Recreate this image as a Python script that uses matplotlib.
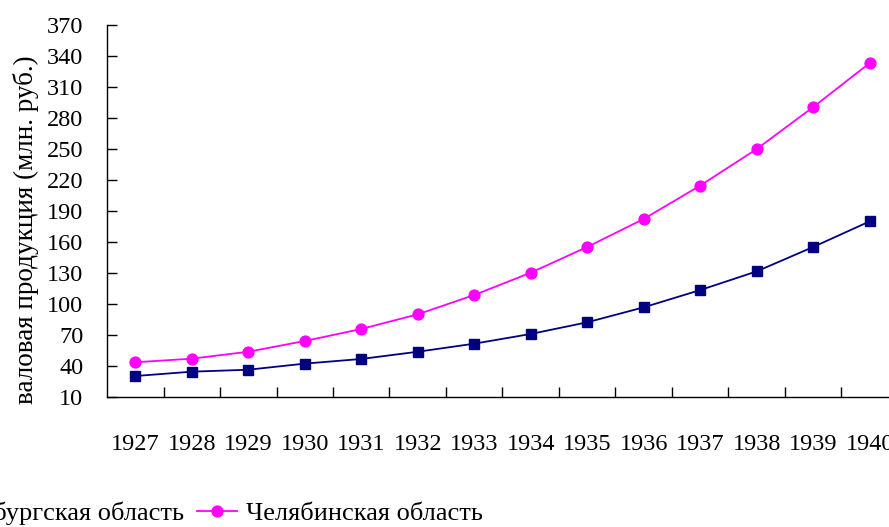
import matplotlib
matplotlib.use("Agg")
import matplotlib.pyplot as plt
import numpy as np
from matplotlib.ticker import FixedLocator, NullFormatter, FixedFormatter

years = ["1927", "1928", "1929", "1930", "1931", "1932", "1933",
         "1934", "1935", "1936", "1937", "1938", "1939", "1940"]
orenburg = [30.3, 34.5, 36.4, 42.3, 46.8, 53.8, 61.6, 71.0, 82.3, 96.8, 113.5, 131.6, 155.2, 180.0]
chelyabinsk = [43.6, 47.1, 53.8, 64.2, 75.8, 90.0, 108.7, 130.3, 155.2, 182.3, 214.6, 250.0, 290.6, 333.2]
yticks = [10, 40, 70, 100, 130, 160, 190, 220, 250, 280, 310, 340, 370]
series_names = ["Оренбургская область", "Челябинская область"]

plt.rcParams['font.family'] = ['Liberation Serif', 'DejaVu Serif']

W, H = 889, 527
fig = plt.figure(figsize=(W/100, H/100), dpi=100)
ax = fig.add_axes([107/W, 1-397/H, (898-107)/W, (397-25)/H])

x = np.arange(len(years))
ax.plot(x, orenburg, color='#000080', marker='s', markersize=7.8, lw=1.3,
        label=series_names[0], clip_on=False)
ax.plot(x, chelyabinsk, color='#FF00FF', marker='o', markersize=7.8, lw=1.3,
        label=series_names[1], clip_on=False)

ax.set_xlim(-0.5, len(years) - 0.5)
ax.set_ylim(10, 370)
ax.set_yticks(yticks)
ax.set_yticklabels([str(v) for v in yticks], fontsize=17.5)

ax.xaxis.set_major_locator(FixedLocator(np.arange(0.5, len(years) - 0.5, 1)))
ax.xaxis.set_major_formatter(NullFormatter())
ax.xaxis.set_minor_locator(FixedLocator(x))
ax.xaxis.set_minor_formatter(FixedFormatter(years))
ax.tick_params(axis='x', which='major', direction='in', length=7, width=1)
ax.tick_params(axis='x', which='minor', length=0, pad=27, labelsize=17.5)
ax.tick_params(axis='y', direction='in', length=7, width=1, pad=17)

for s in ['top', 'right']:
    ax.spines[s].set_visible(False)
for s in ['left', 'bottom']:
    ax.spines[s].set_linewidth(1)

ax.set_ylabel("валовая продукция (млн. руб.)", fontsize=19.5)
ax.yaxis.set_label_coords(39/W, 1-230/H, transform=fig.transFigure)

def make_legend(x0):
    return fig.legend(loc='center left', bbox_to_anchor=(x0/W, 1-513/H), ncol=2,
                      frameon=False, fontsize=19, handlelength=1.5, columnspacing=0.5,
                      handletextpad=0.35, borderaxespad=0, borderpad=0)

leg = make_legend(-100)
fig.canvas.draw()
r = fig.canvas.get_renderer()
tx0 = leg.get_texts()[1].get_window_extent(r).x0
leg.remove()
leg = make_legend(-100 + (246 - tx0))

fig.savefig("out.png", dpi=100)
